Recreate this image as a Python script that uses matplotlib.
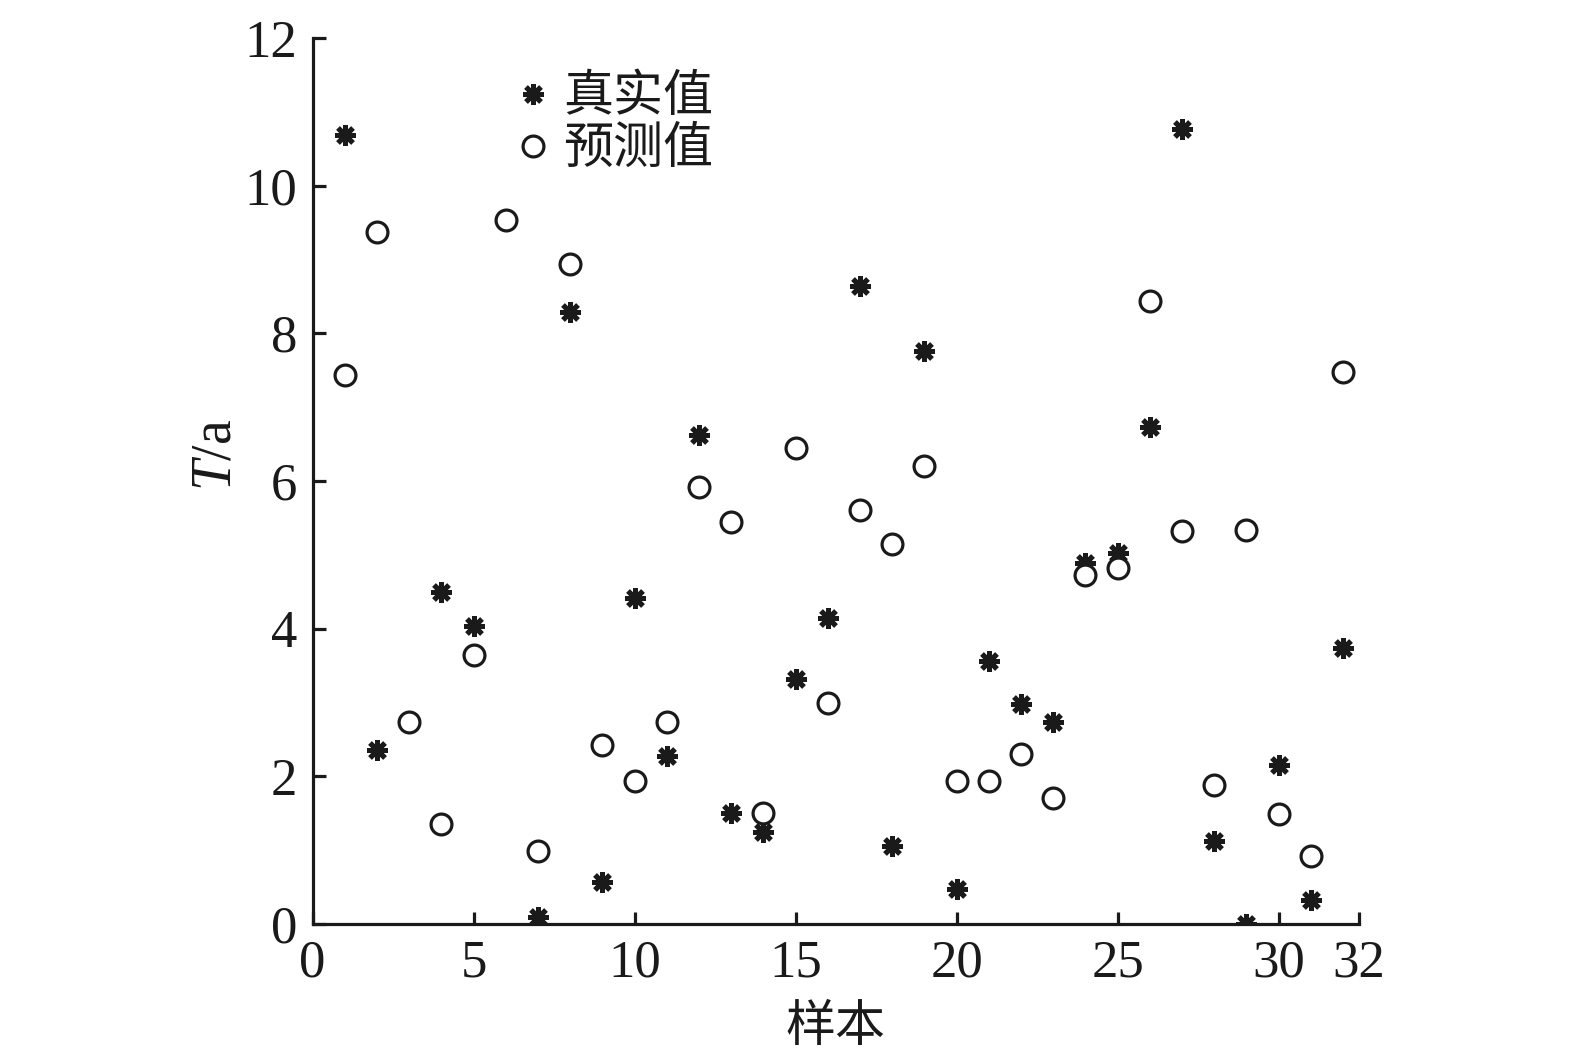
import matplotlib.pyplot as plt

# data
samples = list(range(1, 33))
true_vals = [10.69, 2.35, 2.74, 4.49, 4.04, 9.53, 0.10, 8.29, 0.57, 4.42,
             2.27, 6.62, 1.50, 1.25, 3.32, 4.14, 8.64, 1.05, 7.76, 0.48,
             3.56, 2.98, 2.73, 4.89, 5.02, 6.73, 10.77, 1.12, 0.00, 2.15,
             0.33, 3.74]
pred_vals = [7.43, 9.37, 2.74, 1.36, 3.64, 9.53, 0.99, 8.94, 2.43, 1.93,
             2.74, 5.92, 5.45, 1.50, 6.45, 2.99, 5.61, 5.14, 6.20, 1.93,
             1.93, 2.30, 1.70, 4.73, 4.82, 8.44, 5.32, 1.88, 5.34, 1.49,
             0.92, 7.47]
xtick_labels = ['0', '5', '10', '15', '20', '25', '30', '32']
ytick_labels = ['0', '2', '4', '6', '8', '10', '12']

plt.rcParams['font.family'] = ['Liberation Serif', 'Noto Sans CJK SC']
plt.rcParams['mathtext.fontset'] = 'custom'
plt.rcParams['mathtext.it'] = 'Liberation Serif:italic'
cjk = ['Noto Sans CJK SC', 'DejaVu Sans']

fig = plt.figure(figsize=(15.75, 10.59), dpi=100)
ax = fig.add_axes([0.1985, 0.1275, 0.6644, 0.8366])

ax.plot(samples, true_vals, linestyle='none', marker=(8, 2, 0),
        markersize=15, markeredgewidth=3.6, color='#1a1a1a', label='真实值')
ax.plot(samples, pred_vals, linestyle='none', marker='o', markersize=15,
        markeredgewidth=2.3, markeredgecolor='#1a1a1a', markerfacecolor='white',
        label='预测值')

ax.set_xlim(0, 32.5)
ax.set_ylim(0, 12)
ax.set_xticks([0, 5, 10, 15, 20, 25, 30, 32.5])
ax.set_xticklabels(xtick_labels)
ax.set_yticks(range(0, 13, 2))
ax.set_yticklabels(ytick_labels)

for s in ['top', 'right']:
    ax.spines[s].set_visible(False)
for s in ['left', 'bottom']:
    ax.spines[s].set_linewidth(2.3)
    ax.spines[s].set_color('#1a1a1a')
ax.tick_params(direction='in', length=9, width=2.3, colors='#1a1a1a',
               labelsize=38, pad=11)

ax.set_xlabel('样本', family=cjk, fontsize=36, labelpad=10, color='#1a1a1a')
ax.set_ylabel(r'$\mathit{T}$/a', fontsize=40, color='#1a1a1a')
ax.yaxis.set_label_coords(-0.067, 0.53)

leg = ax.legend(loc='upper left', bbox_to_anchor=(0.177, 0.985), frameon=False,
                prop={'family': cjk, 'size': 36}, handlelength=0.6,
                handletextpad=0.3, labelspacing=0.0, borderaxespad=0)
for t in leg.get_texts():
    t.set_color('#1a1a1a')

fig.savefig('out.png', dpi=100)
